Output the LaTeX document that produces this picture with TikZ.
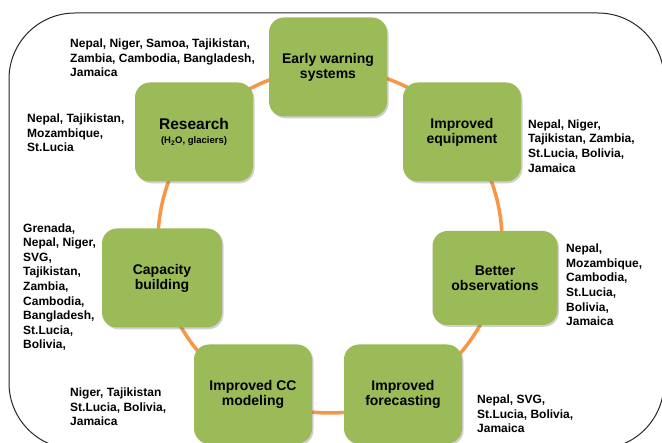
\documentclass[tikz,border=0pt]{standalone}
\usepackage{fontspec}
\setmainfont{Liberation Sans}
\usetikzlibrary{shadows}
\definecolor{boxgreen}{HTML}{9BBB59}
\definecolor{ringorange}{HTML}{F79646}
\begin{document}
\begin{tikzpicture}[x=1pt,y=-1pt,
  stepbox/.style={draw=none, fill=boxgreen, rounded corners=15pt,
    minimum width=118pt, minimum height=99pt, inner sep=0pt,
    align=center, font=\fontsize{14}{15}\selectfont\bfseries,
    drop shadow={shadow xshift=1.5pt, shadow yshift=-1.8pt, opacity=0.3, fill=black!60}},
  countries/.style={anchor=west, align=left, inner sep=0pt,
    font=\fontsize{12}{14.6}\selectfont\bfseries}]
  \useasboundingbox (0,0) rectangle (662,443);
  \clip (0,0) rectangle (662,443);
  \fill[white] (0,0) rectangle (662,443);

  % outer frame
  \draw[black!85, line width=1pt, rounded corners=66pt] (9,13) rectangle (664,449);

  % ring connecting the stages
  \coordinate (ringc) at (330,241);
  \draw[ringorange, line width=3.5pt] (ringc) circle[radius=172];

  % stages
  \node[stepbox] (ews) at (328,67) {Early warning\\systems};
  \node[stepbox] (equip) at (462,132) {Improved\\equipment};
  \node[stepbox, minimum width=125pt, minimum height=94pt] (obs) at (495,278) {Better\\observations};
  \node[stepbox] (fore) at (403,394) {Improved\\forecasting};
  \node[stepbox] (ccmod) at (253,394) {Improved CC\\modeling};
  \node[stepbox, minimum width=120pt] (cap) at (162,278) {Capacity\\building};
  \node[stepbox] (res) at (194,132) {{\fontsize{15.5}{16}\selectfont Research}\\[-1pt]{\fontsize{9.5}{11}\selectfont (H\textsubscript{2}O, glaciers)}};

  % countries per stage
  \node[countries] (ewsc) at (70,58) {Nepal, Niger, Samoa, Tajikistan,\\Zambia, Cambodia, Bangladesh,\\Jamaica};
  \node[countries] (resc) at (27,133) {Nepal, Tajikistan,\\Mozambique,\\St.Lucia};
  \node[countries] (equipc) at (528,146) {Nepal, Niger,\\Tajikistan, Zambia,\\St.Lucia, Bolivia,\\Jamaica};
  \node[countries] (obsc) at (566,285) {Nepal,\\Mozambique,\\Cambodia,\\St.Lucia,\\Bolivia,\\Jamaica};
  \node[countries] (forec) at (477,414) {Nepal, SVG,\\St.Lucia, Bolivia,\\Jamaica};
  \node[countries] (ccmodc) at (70,407) {Niger, Tajikistan\\St.Lucia, Bolivia,\\Jamaica};
  \node[countries] (capc) at (23,287) {Grenada,\\Nepal, Niger,\\SVG,\\Tajikistan,\\Zambia,\\Cambodia,\\Bangladesh,\\St.Lucia,\\Bolivia,};
\end{tikzpicture}
\end{document}
